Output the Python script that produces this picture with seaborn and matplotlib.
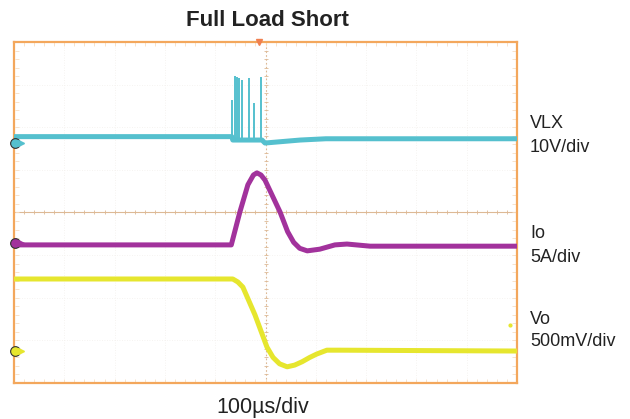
import numpy as np
import pandas as pd
import matplotlib
matplotlib.use("Agg")
import matplotlib.pyplot as plt
import seaborn as sns

sns.set_theme(style="white")
plt.rcParams['font.family'] = ['Liberation Sans', 'DejaVu Sans']

# ---- data (x, y in scope divisions) ----
vlx_x = [0.0, 4.33, 4.35, 4.93, 4.99, 5.19, 5.69, 6.2, 10.0]
vlx_y = [5.78, 5.78, 5.70, 5.70, 5.63, 5.65, 5.70, 5.73, 5.73]
spike_x = [4.34, 4.39, 4.43, 4.48, 4.53, 4.68, 4.78, 4.91]
spike_top = [6.64, 7.20, 7.19, 7.15, 7.11, 7.15, 6.58, 7.19]

io_x = [0.0, 4.32, 4.49, 4.65, 4.76, 4.83, 4.91, 4.99, 5.29, 5.44, 5.56, 5.68, 5.83, 6.08, 6.38, 6.62, 7.08, 10.0]
io_y = [3.24, 3.24, 4.01, 4.65, 4.88, 4.93, 4.88, 4.76, 4.01, 3.55, 3.30, 3.16, 3.10, 3.14, 3.24, 3.26, 3.21, 3.21]

vo_x = [0.0, 4.35, 4.45, 4.55, 4.79, 5.03, 5.15, 5.28, 5.43, 5.58, 5.73, 5.88, 6.02, 6.22, 6.48, 10.0]
vo_y = [2.44, 2.44, 2.37, 2.25, 1.60, 0.84, 0.60, 0.45, 0.38, 0.42, 0.50, 0.60, 0.68, 0.77, 0.77, 0.75]

traces = ["VLX", "Io", "Vo"]
scales = ["10V/div", "5A/div", "500mV/div"]
ref_levels = [5.63, 3.29, 0.75]
colors = {"VLX": "#55C0CE", "Io": "#A2329C", "Vo": "#E6E62E"}

df = pd.concat([
    pd.DataFrame({"trace": "VLX", "x": vlx_x, "y": vlx_y}),
    pd.DataFrame({"trace": "Io", "x": io_x, "y": io_y}),
    pd.DataFrame({"trace": "Vo", "x": vo_x, "y": vo_y}),
], ignore_index=True)

fig = plt.figure(figsize=(6.30, 4.19), dpi=100)
ax = fig.add_axes([14/630, 1-383/419, (517-14)/630, (383-42)/419])

# faint grid
for gx in range(1, 10):
    ax.axvline(gx, color="#F3F0EC", lw=0.6, ls=(0, (1, 2)), zorder=0)
for gy in range(1, 8):
    ax.axhline(gy, color="#F3F0EC", lw=0.6, ls=(0, (1, 2)), zorder=0)
# center lines with minor ticks
tick_c = "#DDB995"
ax.axvline(5, color=tick_c, lw=0.8, ls=(0, (1.5, 2)), zorder=1)
ax.axhline(4, color=tick_c, lw=0.8, zorder=1)
mt_x = np.arange(0, 10.01, 0.2)
mt_y = np.arange(0, 8.01, 0.2)
ax.plot(mt_x, np.full_like(mt_x, 4), ls="none", marker="|", ms=3, color=tick_c, mew=0.6, zorder=1)
ax.plot(np.full_like(mt_y, 5), mt_y, ls="none", marker="_", ms=3, color=tick_c, mew=0.6, zorder=1)
edge_c = "#F7DEC4"
ax.plot(mt_x, np.full_like(mt_x, 7.95), ls="none", marker="|", ms=3, color=edge_c, mew=0.6, zorder=1)
ax.plot(mt_x, np.full_like(mt_x, 0.05), ls="none", marker="|", ms=3, color=edge_c, mew=0.6, zorder=1)
ax.plot(np.full_like(mt_y, 0.05), mt_y, ls="none", marker="_", ms=3, color=edge_c, mew=0.6, zorder=1)
ax.plot(np.full_like(mt_y, 9.95), mt_y, ls="none", marker="_", ms=3, color=edge_c, mew=0.6, zorder=1)

sns.lineplot(data=df, x="x", y="y", hue="trace", palette=colors, sort=False,
             estimator=None, lw=3.6, legend=False, ax=ax, zorder=3)
ax.vlines(spike_x, [vlx_y[2]] * len(spike_x), spike_top, color=colors["VLX"], lw=1.4, zorder=3)

# channel reference markers on left edge
for t, lv in zip(traces, ref_levels):
    ax.plot([0.02], [lv], marker="o", ms=7, color=colors[t], mec="#333333", mew=0.8,
            clip_on=False, zorder=5)
    ax.plot([0.14], [lv], marker=">", ms=4, color=colors[t], clip_on=False, zorder=5)
# trigger marker
ax.plot([4.87], [8.0], marker="v", ms=5, color="#F08050", clip_on=False, zorder=5)
ax.plot([9.86], [1.36], marker="o", ms=2, color=colors["Vo"], zorder=4)

ax.set_xlim(0, 10)
ax.set_ylim(0, 8)
ax.set_xticks([])
ax.set_yticks([])
ax.set_xlabel("")
ax.set_ylabel("")
for s in ax.spines.values():
    s.set_color("#F3A75C")
    s.set_linewidth(1.6)

fig.text(267/630, 1-20/419, "Full Load Short", ha="center", va="center",
         fontsize=16, fontweight="bold", color="#222222")
fig.text(263/630, 1-407/419, "100µs/div", ha="center", va="center",
         fontsize=15.5, color="#222222")
label_y = [(124, 148), (233, 257), (320, 342)]
for t, sc, (y1, y2) in zip(traces, scales, label_y):
    fig.text(530/630, 1-y1/419, t, ha="left", va="center", fontsize=13, color="#222222")
    fig.text(530/630, 1-y2/419, sc, ha="left", va="center", fontsize=13, color="#222222")

fig.savefig("out.png", dpi=100)
